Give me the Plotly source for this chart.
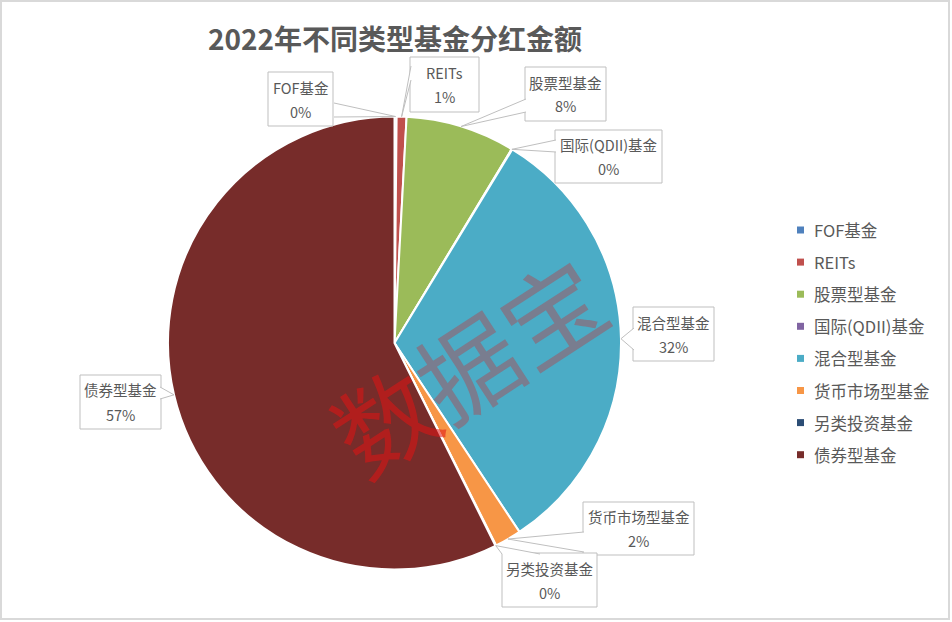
import math
import plotly.graph_objects as go

categories = ["FOF基金", "REITs", "股票型基金", "国际(QDII)基金", "混合型基金", "货币市场型基金", "另类投资基金", "债券型基金"]
values = [0.15, 0.7, 7.8, 0.05, 32.0, 1.9, 0.05, 57.35]
colors = ["#4F81BD", "#C0504D", "#9BBB59", "#8064A2", "#4BACC6", "#F79646", "#2C4D75", "#772C2A"]
title_text = "2022年不同类型基金分红金额"

W, H = 952, 622
CX, CY, R = 394.5, 343, 226.5

# callout boxes: (x0, y0, x1, y1) in pixels, and wedge base points
boxes = [(268, 72, 333, 126), (410, 57, 479, 112), (525, 67, 606, 121), (555, 130, 662, 183),
         (633, 307, 714, 361), (583, 502, 694, 555), (502, 553, 597, 607), (80, 375, 161, 429)]
wedge_bases = [((334, 103), (334, 117)), ((411, 66), (411, 80)), ((526, 99), (526, 112)),
               ((556, 140), (556, 152)), ((634, 328), (634, 350)), ((584, 532), (584, 552)),
               ((502, 554), (540, 554)), ((160, 387), (160, 399))]

FONT = "Noto Sans CJK SC, Microsoft YaHei, sans-serif"
GRAY = "#595959"
BORDER = "#bfbfbf"


def px(x):
    return x / W


def py(y):
    return 1 - y / H


fig = go.Figure(go.Pie(
    labels=categories, values=values, sort=False, direction="clockwise", rotation=0,
    marker=dict(colors=colors, line=dict(color="white", width=2)),
    textinfo="none", hoverinfo="label+percent", showlegend=False,
    domain=dict(x=[(CX - R) / W, (CX + R) / W], y=[(H - CY - R) / H, (H - CY + R) / H]),
))

total = sum(values)
annotations = []
shapes = [dict(type="rect", xref="paper", yref="paper", x0=px(1), x1=px(949), y0=py(619), y1=py(1),
               line=dict(color="#d9d9d9", width=2), layer="below")]
cum = 0.0
for cat, v, (bx0, by0, bx1, by1), (b1, b2) in zip(categories, values, boxes, wedge_bases):
    mid = (cum + v / 2) / total * 2 * math.pi
    cum += v
    tx = CX + R * math.sin(mid)
    ty = CY - R * math.cos(mid)
    pct = round(v / total * 100)
    shapes.append(dict(type="rect", xref="paper", yref="paper", x0=px(bx0), x1=px(bx1), y0=py(by1), y1=py(by0),
                       line=dict(color=BORDER, width=1), fillcolor="white", layer="above"))
    path = f"M {px(b1[0])},{py(b1[1])} L {px(tx)},{py(ty)} L {px(b2[0])},{py(b2[1])}"
    shapes.append(dict(type="path", xref="paper", yref="paper", path=path,
                       line=dict(color=BORDER, width=1), fillcolor="white", layer="above"))
    cxb = (bx0 + bx1) / 2
    cyb = (by0 + by1) / 2
    annotations.append(dict(x=px(cxb), y=py(cyb - 12), xref="paper", yref="paper", showarrow=False,
                            xanchor="center", yanchor="middle",
                            text=cat, font=dict(family=FONT, size=14.5, color=GRAY)))
    annotations.append(dict(x=px(cxb), y=py(cyb + 12), xref="paper", yref="paper", showarrow=False,
                            xanchor="center", yanchor="middle",
                            text=f"{pct}%", font=dict(family=FONT, size=14.5, color=GRAY)))

# legend (manual, to match spacing)
for i, (cat, col) in enumerate(zip(categories, colors)):
    yc = 230 + 32.1 * i
    shapes.append(dict(type="rect", xref="paper", yref="paper", x0=px(797), x1=px(804),
                       y0=py(yc + 3.5), y1=py(yc - 3.5), line=dict(width=0), fillcolor=col))
    annotations.append(dict(x=px(812), y=py(yc), xref="paper", yref="paper", xanchor="left",
                            yanchor="middle", showarrow=False, text=cat,
                            font=dict(family=FONT, size=16.5, color=GRAY)))

# watermark
annotations.append(dict(
    x=px(466), y=py(363), xref="paper", yref="paper", showarrow=False,
    xanchor="center", yanchor="middle",
    text="<span style='color:rgba(225,20,20,0.6)'>数</span>据宝", textangle=-33,
    font=dict(family=FONT, size=100, color="rgba(125,120,138,0.92)"),
))

fig.update_layout(
    width=W, height=H, margin=dict(l=0, r=0, t=0, b=0),
    paper_bgcolor="white", plot_bgcolor="white",
    title=dict(text=f"<b>{title_text}</b>", x=395 / W, xanchor="center", y=py(40), yanchor="middle",
               font=dict(family=FONT, size=28, color=GRAY)),
    annotations=annotations,
    shapes=shapes,
)

fig.write_html("out.html", config={"displayModeBar": False},
               post_script="document.body.style.margin='0';")
